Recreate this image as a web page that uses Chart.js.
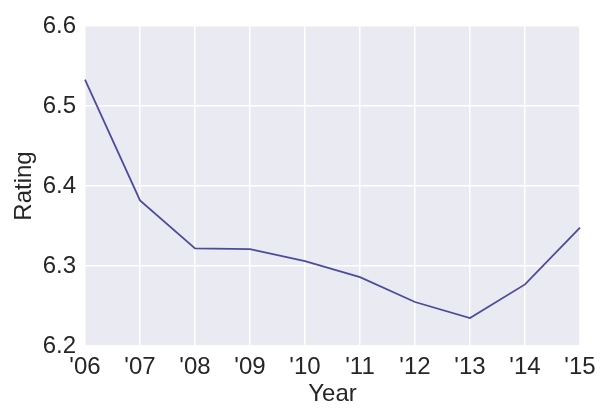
<!DOCTYPE html>
<html lang="en">
<head>
  <meta charset="UTF-8">
  <title>Rating by Year</title>
  <style>
    body { margin: 0; background: #ffffff; }
    #wrap { width: 610px; height: 419px; }
  </style>
</head>
<body>
  <div id="wrap"><canvas id="chart" width="610" height="419"></canvas></div>

  <script src="https://cdn.jsdelivr.net/npm/chart.js"></script>
  <script>
    const years = ["'06", "'07", "'08", "'09", "'10", "'11", "'12", "'13", "'14", "'15"];
    const ratings = [6.533, 6.382, 6.322, 6.321, 6.306, 6.286, 6.255, 6.235, 6.277, 6.348];
    const yTicks = [6.2, 6.3, 6.4, 6.5, 6.6];

    const font = "'Liberation Sans', Arial, sans-serif";
    const textColor = '#262626';

    // seaborn-style grey plot background
    const plotBg = {
      id: 'plotBg',
      beforeDraw(chart) {
        const { ctx, chartArea: a } = chart;
        ctx.save();
        ctx.fillStyle = '#EAEAF2';
        ctx.fillRect(a.left, a.top, a.right - a.left, a.bottom - a.top);
        ctx.restore();
      }
    };

    new Chart(document.getElementById('chart'), {
      type: 'line',
      data: {
        labels: years,
        datasets: [{
          data: ratings,
          borderColor: '#4C4C9D',
          borderWidth: 1.8,
          pointRadius: 0,
          tension: 0,
          fill: false
        }]
      },
      options: {
        responsive: false,
        animation: false,
        layout: { padding: { left: 10, top: 26, right: 30, bottom: 10 } },
        plugins: { legend: { display: false }, tooltip: { enabled: false } },
        scales: {
          x: {
            offset: false,
            grid: { color: '#ffffff', lineWidth: 1.5, drawTicks: false },
            border: { display: false },
            ticks: {
              color: textColor, font: { family: font, size: 24 },
              padding: 7, maxRotation: 0, autoSkip: false
            },
            title: {
              display: true, text: 'Year', color: textColor,
              font: { family: font, size: 24 }, padding: { top: 0, bottom: 0 }
            },
            afterFit(axis) { axis.height = 63; }
          },
          y: {
            min: yTicks[0],
            max: yTicks[yTicks.length - 1],
            grid: { color: '#ffffff', lineWidth: 1.5, drawTicks: false },
            border: { display: false },
            afterBuildTicks(axis) { axis.ticks = yTicks.map(v => ({ value: v })); },
            ticks: {
              color: textColor, font: { family: font, size: 24 },
              padding: 9,
              callback: v => Number(v).toFixed(1)
            },
            title: {
              display: true, text: 'Rating', color: textColor,
              font: { family: font, size: 24 }, padding: { top: 0, bottom: 4 }
            },
            afterFit(axis) { axis.width = 75; }
          }
        }
      },
      plugins: [plotBg]
    });
  </script>
</body>
</html>
